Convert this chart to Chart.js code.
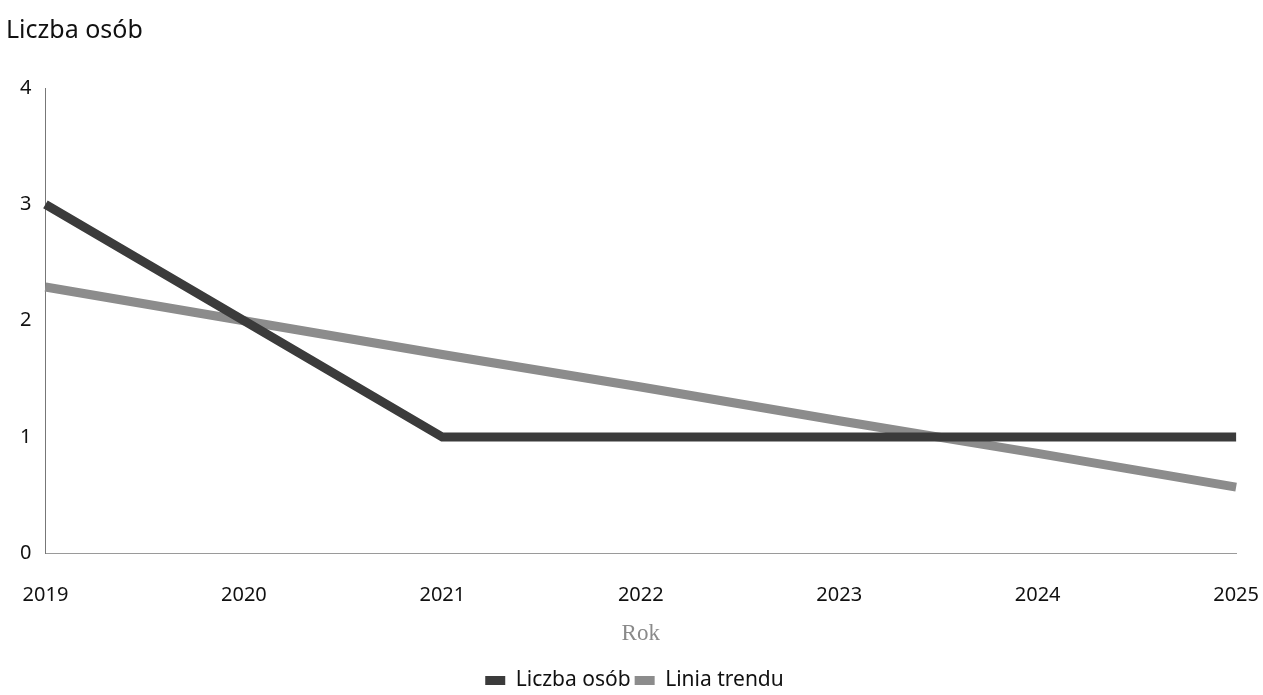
<!DOCTYPE html>
<html>
<head>
<meta charset="utf-8">
<script src="https://cdn.jsdelivr.net/npm/chart.js@4/dist/chart.umd.min.js"></script>
<style>
    html, body { margin: 0; padding: 0; background: #ffffff; }
    #wrap { width: 1263px; height: 695px; }
</style>
</head>
<body>
<div id="wrap"><canvas id="personsChart"></canvas></div>
<script>
// --- Data ---
const years = ['2019', '2020', '2021', '2022', '2023', '2024', '2025'];
const personCount = [3, 2, 1, 1, 1, 1, 1];
const trendLine = [2.29, 2.0, 1.71, 1.43, 1.14, 0.86, 0.57];
const yTicks = [0, 1, 2, 3, 4];

const fontFamily = '"Noto Sans", "Open Sans", sans-serif';

function initPersonsChart(ctxId) {
    const ctx = document.getElementById(ctxId)?.getContext('2d');
    if (!ctx) {
        console.warn(`Canvas element with ID '${ctxId}' not found.`);
        return;
    }
    new Chart(ctx, {
        type: 'line',
        data: {
            labels: years,
            datasets: [{
                label: 'Liczba osób',
                data: personCount,
                borderColor: '#3b3b3b',
                backgroundColor: '#3b3b3b',
                borderWidth: 9,
                pointRadius: 0,
                tension: 0
            }, {
                label: 'Linia trendu',
                data: trendLine,
                borderColor: '#8c8c8c',
                backgroundColor: '#8c8c8c',
                borderWidth: 9,
                pointRadius: 0,
                tension: 0
            }]
        },
        options: {
            responsive: true,
            maintainAspectRatio: false,
            animation: false,
            layout: {
                padding: { left: 6, right: 0, top: 0, bottom: -6 }
            },
            scales: {
                x: {
                    offset: false,
                    // invisible tick marks just push the year labels down
                    grid: {
                        display: true,
                        drawOnChartArea: false,
                        drawTicks: true,
                        tickLength: 26,
                        tickColor: 'rgba(0,0,0,0)'
                    },
                    border: { display: true, color: '#9a9a9a', width: 1 },
                    ticks: {
                        color: '#111',
                        font: { family: fontFamily, size: 20 },
                        padding: 4,
                        maxRotation: 0
                    },
                    title: {
                        display: true,
                        text: 'Rok',
                        color: '#8a8a8a',
                        font: { family: '"Liberation Serif", serif', size: 23 },
                        padding: { top: 9, bottom: 18 }
                    }
                },
                y: {
                    min: 0,
                    max: 4,
                    afterBuildTicks: (axis) => {
                        axis.ticks = yTicks.map(v => ({ value: v }));
                    },
                    grid: { display: false, drawTicks: false },
                    border: { display: true, color: '#777', width: 1 },
                    ticks: {
                        color: '#111',
                        font: { family: fontFamily, size: 20 },
                        padding: 14
                    }
                }
            },
            plugins: {
                title: {
                    display: true,
                    text: 'Liczba osób',
                    align: 'start',
                    color: '#111',
                    font: { family: fontFamily, size: 25, weight: 'normal' },
                    padding: { top: 16, bottom: 42 }
                },
                legend: {
                    position: 'bottom',
                    labels: {
                        color: '#111',
                        font: { family: fontFamily, size: 21 },
                        boxWidth: 20,
                        boxHeight: 9,
                        padding: 4,
                        generateLabels: (chart) => {
                            const items = Chart.defaults.plugins.legend.labels.generateLabels(chart);
                            items.forEach(item => { item.lineWidth = 0; });
                            return items;
                        }
                    }
                },
                tooltip: { enabled: false }
            }
        }
    });
}

document.addEventListener('DOMContentLoaded', function () {
    initPersonsChart('personsChart');
});
</script>
</body>
</html>
